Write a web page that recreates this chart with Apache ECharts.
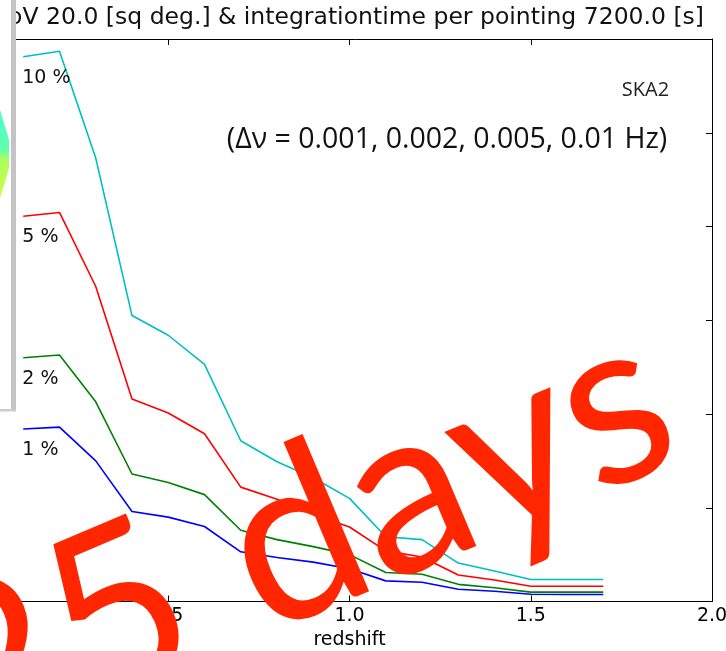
<!DOCTYPE html>
<html><head><meta charset="utf-8">
<script src="https://cdn.jsdelivr.net/npm/echarts@6/dist/echarts.min.js"></script>
<style>html,body{margin:0;padding:0;background:#fff}#c{width:726px;height:651px}</style>
</head><body><div id="c"></div>
<script>
// ---- data ----
const redshift = [0.1,0.2,0.3,0.4,0.5,0.6,0.7,0.8,0.9,1.0,1.1,1.2,1.3,1.4,1.5,1.6,1.7];
const curve1pct  = [1.84,1.86,1.50,0.96,0.90,0.80,0.53,0.47,0.42,0.35,0.22,0.205,0.13,0.11,0.077,0.075,0.075];
const curve2pct  = [2.60,2.63,2.13,1.36,1.27,1.14,0.76,0.66,0.585,0.50,0.31,0.29,0.183,0.147,0.10,0.10,0.10];
const curve5pct  = [4.11,4.15,3.36,2.16,2.01,1.79,1.22,1.09,0.93,0.795,0.54,0.475,0.283,0.229,0.162,0.162,0.162];
const curve10pct = [5.81,5.87,4.73,3.05,2.84,2.53,1.715,1.49,1.32,1.10,0.69,0.66,0.41,0.325,0.235,0.235,0.235];
const seriesNames = ['1 %','2 %','5 %','10 %'];
const seriesColors = ['#0000ff','#008000','#ff0000','#00bfbf'];
const xTickLabels = ['0.0','0.5','1.0','1.5','2.0'];
const titleText = 'FoV 20.0 [sq deg.] & integrationtime per pointing 7200.0 [s]';
const xAxisName = 'redshift';
const noteLabel = 'SKA2';
const noteText = '(\u0394\u03bd = 0.001, 0.002, 0.005, 0.01 Hz)';
const stampText = '25 days';

const allCurves = [curve1pct, curve2pct, curve5pct, curve10pct];

const chart = echarts.init(document.getElementById('c'), null, {renderer:'canvas'});
const axisLine = {show:true, onZero:false, lineStyle:{color:'#000', width:1}};
const axisTick = {show:true, inside:true, length:6, lineStyle:{color:'#000', width:1}};
const font = 'DejaVu Sans';

const option = {
  animation:false,
  backgroundColor:'#fff',
  grid:{left:-13, top:39, width:725, height:562.5, containLabel:false, outerBoundsMode:'none'},
  xAxis:[
    {type:'value', min:0, max:2, interval:0.5, position:'bottom',
     axisLine, axisTick, splitLine:{show:false},
     axisLabel:{fontFamily:font, fontSize:19, color:'#000', margin:5,
       formatter:(v)=>{const i=Math.round(v/0.5); return i===0?'':xTickLabels[i];}},
     name:xAxisName, nameLocation:'middle', nameGap:28,
     nameTextStyle:{fontFamily:font, fontSize:19, color:'#000'}},
    {type:'value', min:0, max:2, interval:0.5, position:'top',
     axisLine, axisTick, splitLine:{show:false}, axisLabel:{show:false}}
  ],
  yAxis:[
    {type:'value', min:0, max:6, interval:1, position:'left',
     axisLine, axisTick, splitLine:{show:false}, axisLabel:{show:false}},
    {type:'value', min:0, max:6, interval:1, position:'right',
     axisLine, axisTick, splitLine:{show:false}, axisLabel:{show:false}}
  ],
  series: allCurves.map((vals,k)=>({
    name:seriesNames[k], type:'line', xAxisIndex:0, yAxisIndex:0,
    showSymbol:false, symbol:'none', smooth:false,
    lineStyle:{color:seriesColors[k], width:1.6},
    data: redshift.map((z,i)=>[z, vals[i]])
  }))
};
chart.setOption(option);

// labels placed below the first point of each curve
const labelGraphics = allCurves.map((vals,k)=>{
  const p = chart.convertToPixel({xAxisIndex:0, yAxisIndex:0}, [redshift[0], vals[0]]);
  return {type:'text', z:50, style:{text:seriesNames[k], x:p[0]-1, y:p[1]+21,
    fontFamily:font, fontSize:19, fill:'#111', textAlign:'left', textVerticalAlign:'middle'}};
});

chart.setOption({graphic:[
  {type:'text', z:50, style:{text:titleText, x:704, y:18, fontFamily:font, fontSize:23.5,
    fill:'#111', textAlign:'right', textVerticalAlign:'middle'}},
  {type:'text', z:50, style:{text:noteLabel, x:645.5, y:90, fontFamily:'Open Sans', fontSize:20,
    fill:'#222', textAlign:'center', textVerticalAlign:'middle'}},
  {type:'text', z:50, style:{text:noteText, x:447, y:140, fontFamily:'Open Sans', fontSize:28.5,
    fill:'#111', textAlign:'center', textVerticalAlign:'middle'}},
  ...labelGraphics,
  // overlapping panel on the left
  {type:'rect', z:90, shape:{x:-10, y:-10, width:22, height:420}, style:{fill:'#fff'}},
  {type:'polygon', z:91, shape:{points:[[-2,103],[9,140],[9,168],[-2,205]]},
    style:{fill:new echarts.graphic.LinearGradient(0,0,0,1,[
      {offset:0,color:'#48ffd0'},{offset:0.45,color:'#60ffb0'},{offset:0.55,color:'#a8ff60'},{offset:1,color:'#d4ff3c'}])}},
  {type:'rect', z:92, shape:{x:11, y:-5, width:5, height:416}, style:{fill:'#c4c4c4'}},
  {type:'rect', z:92, shape:{x:-5, y:409, width:21, height:2.5}, style:{fill:'#cccccc'}},
  // big stamp text
  {type:'text', z:100, x:296, y:541, rotation:0.40,
    style:{text:stampText, x:0, y:0, fontFamily:'Lato', fontSize:232, fill:'#ff2600',
      textAlign:'center', textVerticalAlign:'middle'}}
]});
</script>
</body></html>
